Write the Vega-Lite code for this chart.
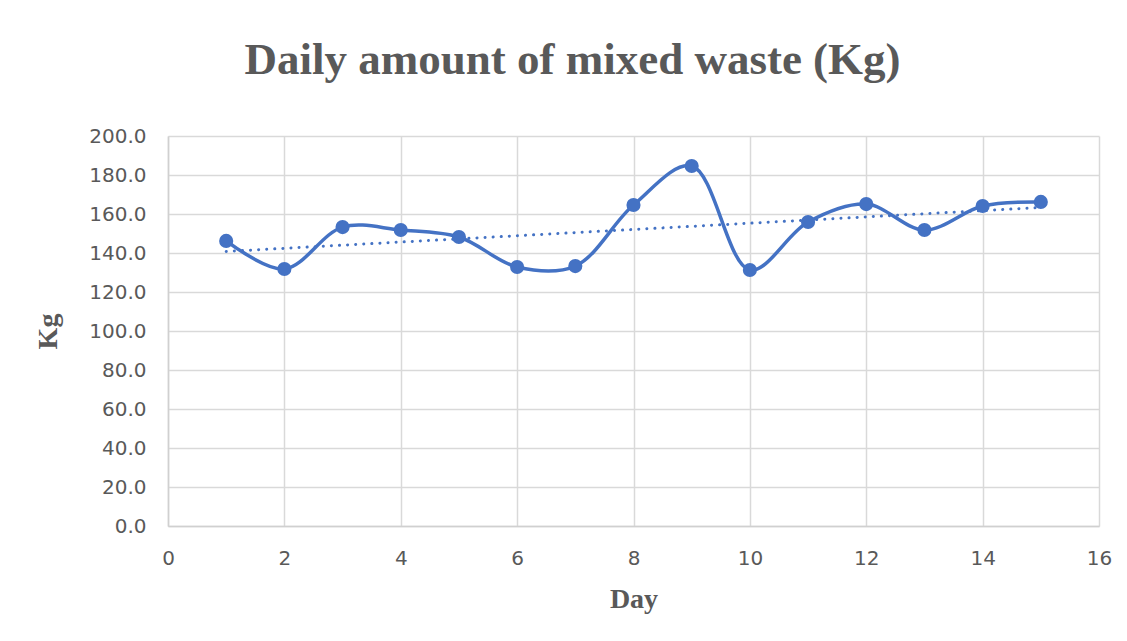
{
  "$schema": "https://vega.github.io/schema/vega-lite/v6.json",
  "width": 931,
  "height": 390,
  "autosize": {"type": "none"},
  "padding": {"left": 168, "top": 136, "right": 28, "bottom": 115},
  "background": "white",
  "config": {
    "view": {"stroke": null},
    "axis": {
      "gridColor": "#d9d9d9",
      "gridWidth": 1.5,
      "domainColor": "#d0d0d0",
      "domainWidth": 1.5,
      "ticks": false,
      "labelColor": "#595959",
      "labelFont": "DejaVu Sans",
      "labelFontSize": 20,
      "labelFlush": false,
      "titleColor": "#595959",
      "titleFont": "Liberation Serif",
      "titleFontWeight": "bold",
      "titleFontSize": 28
    }
  },
  "title": {
    "text": "Daily amount of mixed waste (Kg)",
    "font": "Liberation Serif",
    "fontSize": 45,
    "fontWeight": "bold",
    "color": "#595959",
    "anchor": "middle",
    "dx": -61,
    "offset": 43
  },
  "data": {
    "values": [
      {"day": 1, "kg": 146.2},
      {"day": 2, "kg": 131.8},
      {"day": 3, "kg": 153.3},
      {"day": 4, "kg": 151.8},
      {"day": 5, "kg": 148.2},
      {"day": 6, "kg": 132.8},
      {"day": 7, "kg": 133.3},
      {"day": 8, "kg": 164.6},
      {"day": 9, "kg": 184.6},
      {"day": 10, "kg": 131.3},
      {"day": 11, "kg": 155.9},
      {"day": 12, "kg": 165.1},
      {"day": 13, "kg": 151.8},
      {"day": 14, "kg": 164.1},
      {"day": 15, "kg": 166.2}
    ]
  },
  "encoding": {
    "x": {
      "field": "day",
      "type": "quantitative",
      "scale": {"domain": [0, 16], "nice": false, "zero": false},
      "axis": {"values": [0, 2, 4, 6, 8, 10, 12, 14, 16], "title": "Day", "labelPadding": 22, "titlePadding": 17}
    },
    "y": {
      "field": "kg",
      "type": "quantitative",
      "scale": {"domain": [0, 200], "nice": false},
      "axis": {"values": [0, 20, 40, 60, 80, 100, 120, 140, 160, 180, 200], "format": ".1f", "title": "Kg", "labelPadding": 22, "titlePadding": 26}
    }
  },
  "layer": [
    {
      "transform": [{"regression": "kg", "on": "day"}],
      "mark": {"type": "line", "color": "#4472C4", "strokeWidth": 3, "strokeDash": [0.1, 8], "strokeCap": "round"}
    },
    {
      "mark": {"type": "line", "color": "#4472C4", "strokeWidth": 3.5, "interpolate": "catmull-rom"}
    },
    {
      "mark": {"type": "point", "filled": true, "opacity": 1, "color": "#4472C4", "size": 200}
    }
  ]
}
